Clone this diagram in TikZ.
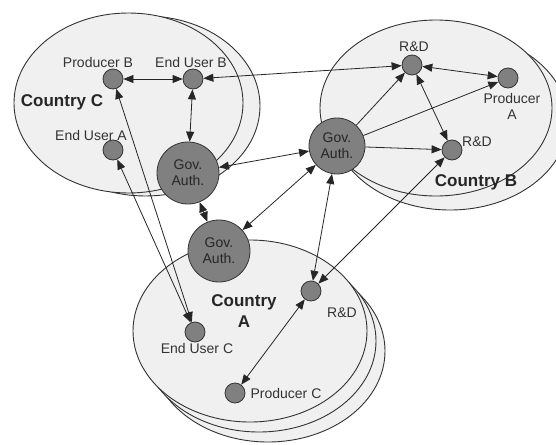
\documentclass[tikz,border=0pt]{standalone}
\usepackage{fontspec}
\setmainfont{Liberation Sans}
\usetikzlibrary{arrows.meta}
\begin{document}
\begin{tikzpicture}[x=1pt,y=-1pt,
  country/.style={draw=black!80, fill=black!6, line width=0.9pt},
  actor/.style={circle, draw=black!80, fill=black!50, line width=0.8pt, minimum size=20pt, inner sep=0pt},
  gov/.style={circle, draw=black!80, fill=black!50, line width=0.8pt, minimum size=62pt, inner sep=0pt, align=center, font=\fontsize{14}{16}\selectfont, text=black!85},
  lbl/.style={font=\fontsize{14}{16}\selectfont, text=black!80, inner sep=0pt, align=center},
  cname/.style={font=\bfseries\fontsize{17}{19}\selectfont, text=black!85, inner sep=0pt, align=center},
  tip/.tip={Triangle[length=10pt,width=8pt]},
  link/.style={line width=0.8pt, draw=black!85, tip-tip},
  oneway/.style={line width=0.8pt, draw=black!85, -tip},
]
\useasboundingbox (0,0) rectangle (556,444);

% country regions, back layers first
\path[country] (145.5,106) ellipse [x radius=114.5, y radius=90];
\path[country] (128.5,103) ellipse [x radius=114.5, y radius=90];

\path[country] (450,121) ellipse [x radius=118, y radius=89];
\path[country] (436,108) ellipse [x radius=116, y radius=88];

\path[country] (268,351) ellipse [x radius=117, y radius=91];
\path[country] (259,341) ellipse [x radius=117, y radius=91];
\path[country] (250,331) ellipse [x radius=117, y radius=91];

% country names
\node[cname] (cC) at (62,102) {Country C};
\node[cname] (cB) at (476,182) {Country B};
\node[cname] (cA) at (244,311) {Country\\[2pt]A};

% actors
\node[actor] (prodB) at (113,79) {};
\node[actor] (euB)   at (193,79) {};
\node[actor] (euA)   at (113,150) {};
\node[actor] (rdB1)  at (412,65) {};
\node[actor] (prodA) at (508,78) {};
\node[actor] (rdB2)  at (452,150) {};
\node[actor] (rdA)   at (311,291) {};
\node[actor] (euC)   at (195,332) {};
\node[actor] (prodC) at (235,393) {};

\node[gov] (govC) at (188,173) {Gov.\\Auth.};
\node[gov] (govA) at (219,251) {Gov.\\Auth.};
\node[gov, minimum size=56pt] (govB) at (337,146) {Gov.\\Auth.};

% actor labels
\node[lbl] (lprodB) at (98,62) {Producer B};
\node[lbl] (leuB)   at (191,62) {End User B};
\node[lbl] (leuA)   at (91,135) {End User A};
\node[lbl] (lrdB1)  at (414,47) {R\&D};
\node[lbl] (lprodA) at (512,106) {Producer\\A};
\node[lbl] (lrdB2)  at (477,142) {R\&D};
\node[lbl] (lrdA)   at (342,313) {R\&D};
\node[lbl] (leuC)   at (197,348) {End User C};
\node[lbl] (lprodC) at (286,393) {Producer C};

% relations
\draw[link] (prodB) -- (euB);
\draw[link] (euB) -- (rdB1);
\draw[link] (euB) -- (govC);
\draw[link] (govC) -- (govB);
\draw[link] (govC) -- (govA);
\draw[link] (govA) -- (govB);
\draw[oneway] (govB) -- (rdB1);
\draw[oneway] (govB) -- (prodA);
\draw[oneway] (govB) -- (rdB2);
\draw[link] (rdB1) -- (prodA);
\draw[link] (rdB1) -- (rdB2);
\draw[link] (govB) -- (rdA);
\draw[link] (rdB2) -- (rdA);
\draw[link] (euA) -- (euC);
\draw[link] (prodB) -- (euC);
\draw[link] (rdA) -- (prodC);
\end{tikzpicture}
\end{document}
